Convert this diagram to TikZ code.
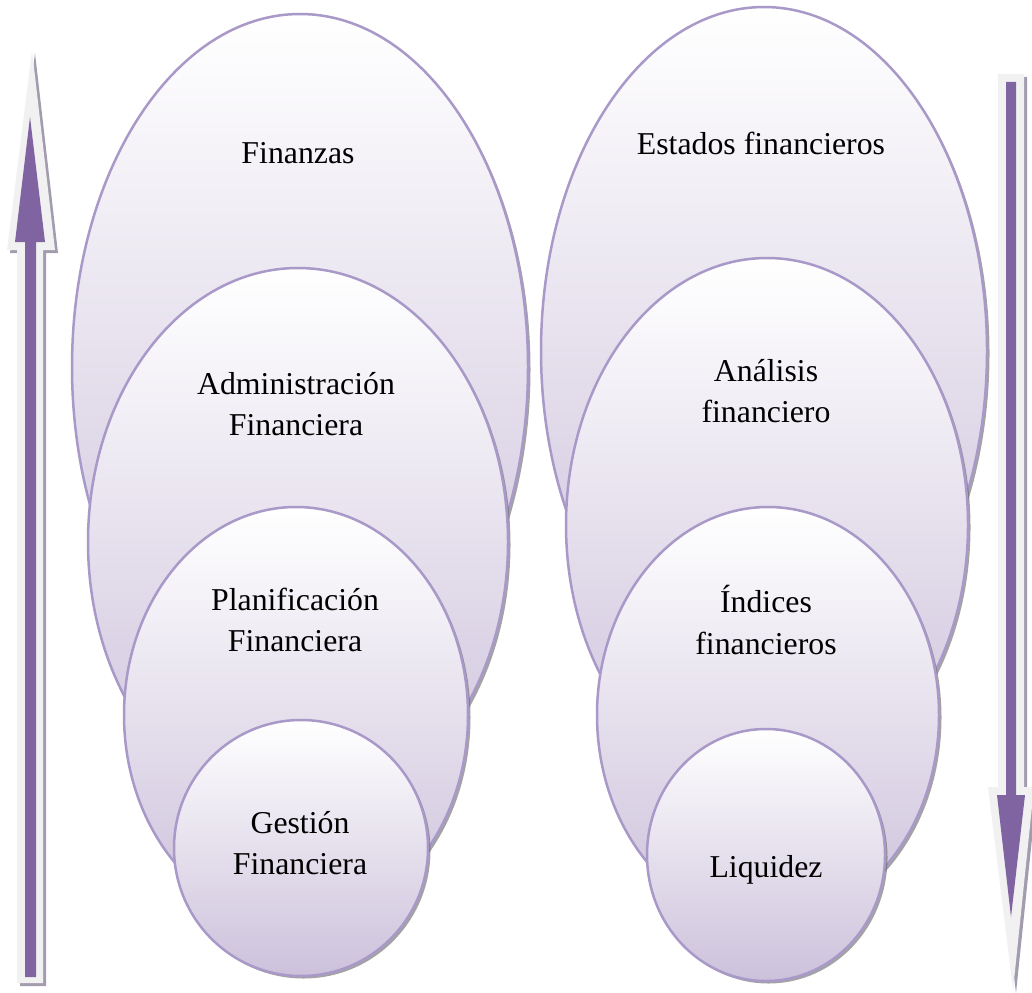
\documentclass[tikz,border=0pt]{standalone}
\usepackage{fontspec}
\setmainfont{Liberation Serif}
\usetikzlibrary{shapes.geometric,shadows}
\definecolor{lavline}{HTML}{A999C8}
\definecolor{lavfill}{HTML}{CCC1DB}
\definecolor{arrpurple}{HTML}{8064A2}
\definecolor{arrlight}{HTML}{F1F1F1}
\definecolor{arrshadow}{HTML}{A39CAE}
\tikzset{
  bubble/.style={ellipse, draw=lavline, line width=2.5pt, inner sep=0pt,
    top color=white, bottom color=lavfill,
    drop shadow={shadow xshift=2.5pt, shadow yshift=-2.5pt, fill=black!60, opacity=.6}},
  lbl/.style={align=center, font=\fontsize{31.8}{41}\selectfont, inner sep=0pt, text=black},
}
\begin{document}
\begin{tikzpicture}[x=1pt,y=-1pt]
\useasboundingbox (0,0) rectangle (1032,992);
% left group
\node[bubble, minimum width=456pt, minimum height=706pt] (f1) at (300,367) {};
\node[bubble, minimum width=420pt, minimum height=548pt] (f2) at (298,542) {};
\node[bubble, minimum width=344pt, minimum height=416pt] (f3) at (296,715) {};
\node[bubble, minimum width=254pt, minimum height=256pt] (f4) at (301,848) {};
\node[lbl] (t1) at (298,153) {Finanzas};
\node[lbl] (t2) at (296,404) {Administración\\Financiera};
\node[lbl] (t3) at (295,620) {Planificación\\Financiera};
\node[lbl] (t4) at (300,843) {Gestión\\Financiera};
% right group
\node[bubble, minimum width=446pt, minimum height=688pt] (r1) at (764,351) {};
\node[bubble, minimum width=402pt, minimum height=534pt] (r2) at (767,525) {};
\node[bubble, minimum width=342pt, minimum height=416pt] (r3) at (768,715) {};
\node[bubble, minimum width=238pt, minimum height=252pt] (r4) at (766,855) {};
\node[lbl] (s1) at (761,143) {Estados financieros};
\node[lbl] (s2) at (766,391) {Análisis\\financiero};
\node[lbl] (s3) at (766,620) {Índices\\financieros};
\node[lbl] (s4) at (766,870) {Liquidez};
% left arrow (up)
\fill[arrshadow] (35,53) -- (58,253) -- (46,253) -- (46,986) -- (20,986) -- (20,253) -- (10,253) -- cycle;
\fill[arrlight] (32,50) -- (55,250) -- (43,250) -- (43,983) -- (17,983) -- (17,250) -- (7,250) -- cycle;
\fill[arrpurple] (30,117) -- (45,242) -- (36,242) -- (36,977) -- (25,977) -- (25,242) -- (15,242) -- cycle;
% right arrow (down)
\fill[arrshadow] (1001,77) -- (1027,77) -- (1027,790) -- (1037,790) -- (1016,993) -- (991,790) -- (1001,790) -- cycle;
\fill[arrlight] (998,74) -- (1024,74) -- (1024,787) -- (1034,787) -- (1013,990) -- (988,787) -- (998,787) -- cycle;
\fill[arrpurple] (1006,82) -- (1016,82) -- (1016,795) -- (1025,795) -- (1011,917) -- (997,795) -- (1006,795) -- cycle;
\end{tikzpicture}
\end{document}
